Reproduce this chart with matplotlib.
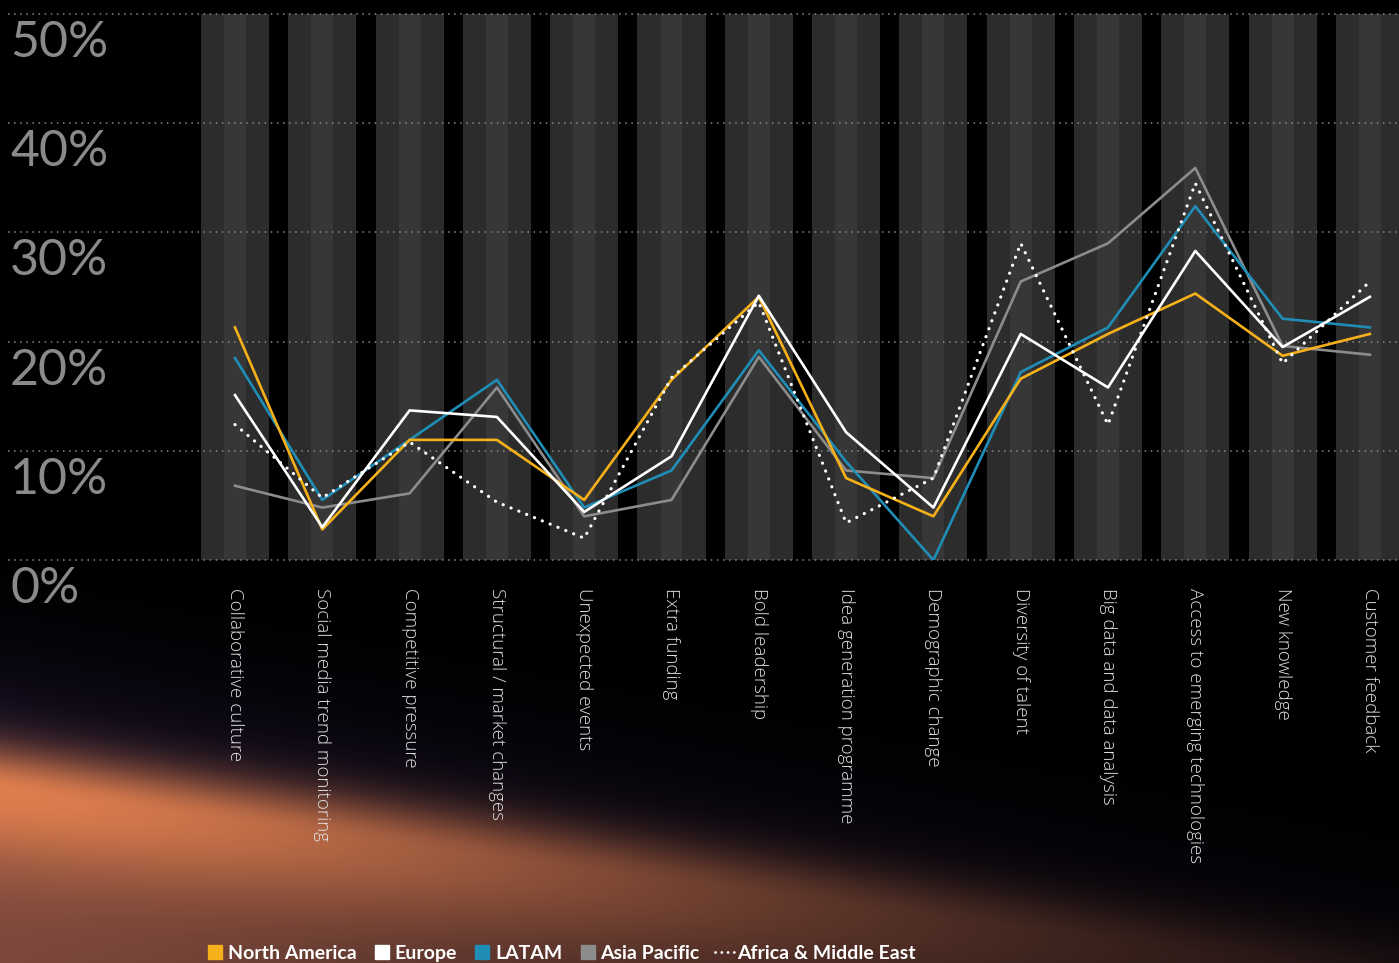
import numpy as np
import matplotlib
matplotlib.use("Agg")
import matplotlib.pyplot as plt
from matplotlib.lines import Line2D

plt.rcParams['font.family'] = ['Lato', 'DejaVu Sans']

# categories and survey shares (%) per region
categories = [
    'Collaborative culture', 'Social media trend monitoring', 'Competitive pressure',
    'Structural / market changes', 'Unexpected events', 'Extra funding',
    'Bold leadership', 'Idea generation programme', 'Demographic change',
    'Diversity of talent', 'Big data and data analysis',
    'Access to emerging technologies', 'New knowledge', 'Customer feedback',
]
north_america = [21.3, 2.8, 11.0, 11.0, 5.5, 16.5, 24.1, 7.5, 4.0, 16.6, 20.7, 24.4, 18.7, 20.7]
europe = [15.1, 3.0, 13.7, 13.1, 4.4, 9.5, 24.2, 11.7, 4.8, 20.7, 15.8, 28.3, 19.5, 24.1]
latam = [18.5, 5.5, 11.0, 16.5, 4.8, 8.2, 19.2, 9.0, 0.0, 17.2, 21.3, 32.4, 22.1, 21.3]
asia_pacific = [6.8, 4.8, 6.1, 15.8, 4.0, 5.5, 18.6, 8.2, 7.5, 25.5, 29.0, 35.9, 19.6, 18.8]
africa_me = [12.4, 5.7, 10.8, 5.3, 2.0, 16.7, 23.6, 3.4, 7.5, 29.0, 12.4, 34.5, 18.0, 25.5]
y_ticks = [0, 10, 20, 30, 40, 50]

W, H = 1399, 963
fig = plt.figure(figsize=(W / 100, H / 100), dpi=100)
fig.patch.set_facecolor('black')

# background glow in the lower left corner
bg = fig.add_axes([0, 0, 1, 1], zorder=0)
yy, xx = np.mgrid[0:H, 0:W].astype(float)
d = yy - (790 + 0.14 * xx)
fade = np.exp(-(xx / 850) ** 1.5)
band = np.where(d < 0, np.exp(-(d / 45) ** 2), 0.5 + 0.5 * np.exp(-(d / 75) ** 2)) * fade
halo = np.where(d < 0, np.exp(-(d / 130) ** 2), 1.0) * np.exp(-xx / 1000)
orange = np.array([222, 126, 78]) / 255
navy = np.array([26, 18, 42]) / 255
img = band[..., None] * orange + (1 - band[..., None]) * halo[..., None] * navy
img = np.clip(img, 0, 1)
bg.imshow(img, extent=[0, W, H, 0], aspect='auto', interpolation='bilinear')
bg.set_xlim(0, W)
bg.set_ylim(H, 0)
bg.axis('off')

# main chart
x0, step = 235, 87.3
ax = fig.add_axes([8 / W, 1 - 560 / H, (W - 8) / W, 546 / H], zorder=1)
ax.patch.set_alpha(0)
ax.set_xlim((8 - x0) / step, (W - x0) / step)
ax.set_ylim(0, 50)
ax.axis('off')

x = np.arange(len(categories))
ax.bar(x, 50, width=0.78, color='#2c2c2c', zorder=1)
ax.bar(x, 50, width=0.25, color='#373737', zorder=1)

for t in y_ticks:
    ax.axhline(t, color='#8a8a8a', lw=1.1, linestyle=(0, (1, 3)), zorder=2, clip_on=False)
    ax.text((10 - x0) / step, t - 2.65, f'{t}%', color='#8a8a8a', fontsize=36,
            ha='left', va='center', zorder=3, clip_on=False)

lw = 1.9
ax.plot(x, asia_pacific, color='#8c8c8c', lw=lw, zorder=4)
ax.plot(x, latam, color='#1f8db5', lw=lw, zorder=5)
ax.plot(x, north_america, color='#f6b11a', lw=lw, zorder=6)
ax.plot(x, europe, color='white', lw=lw, zorder=7)
ax.plot(x, africa_me, color='white', lw=2.3, linestyle=(0, (0.05, 2.6)),
        dash_capstyle='round', zorder=8)

for i, name in enumerate(categories):
    ax.text(i, -2.55, name, rotation=270, color='#e0e0e0', fontsize=13.5,
            family=['Open Sans', 'DejaVu Sans'], fontweight='light',
            ha='center', va='top', clip_on=False)

handles = [
    Line2D([], [], marker='s', linestyle='none', markersize=10, color='#f6b11a'),
    Line2D([], [], marker='s', linestyle='none', markersize=10, color='white'),
    Line2D([], [], marker='s', linestyle='none', markersize=10, color='#1f8db5'),
    Line2D([], [], marker='s', linestyle='none', markersize=10, color='#8c8c8c'),
    Line2D([], [], color='white', lw=2, linestyle=(0, (0.05, 2.2)), dash_capstyle='round'),
]
labels = ['North America', 'Europe', 'LATAM', 'Asia Pacific', 'Africa & Middle East']
leg = fig.legend(handles, labels, loc='center left', bbox_to_anchor=(196 / W, 1 - 953 / H),
                 ncol=5, frameon=False, handlelength=1.0, handletextpad=0.15,
                 columnspacing=0.8, fontsize=14, borderpad=0)
for t in leg.get_texts():
    t.set_color('white')
    t.set_fontweight('bold')

fig.savefig('out.png', dpi=100, facecolor='black')
